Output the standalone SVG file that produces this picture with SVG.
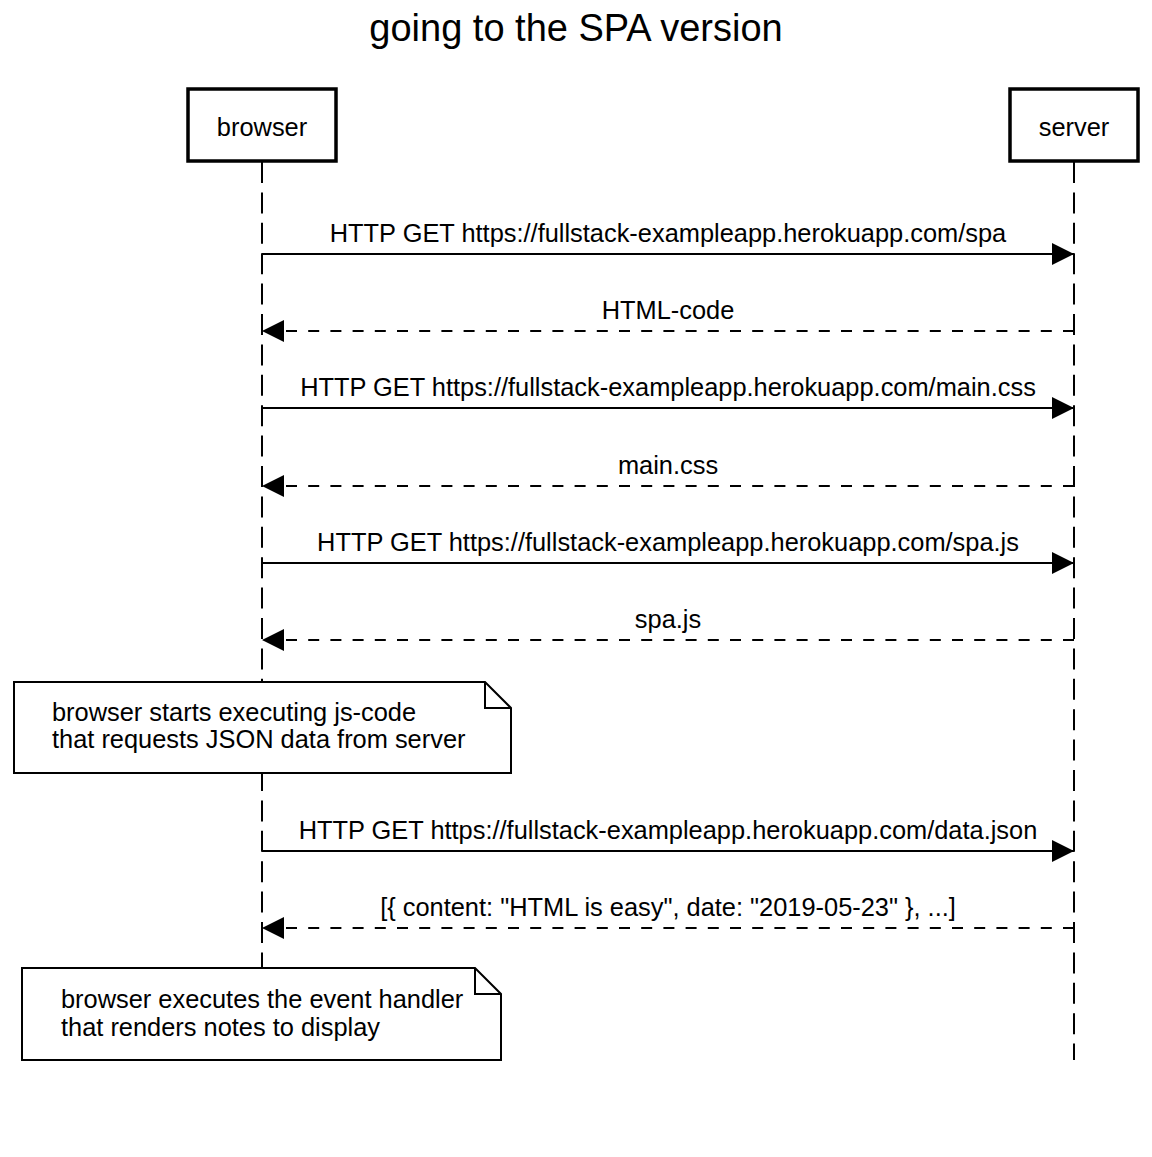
<svg xmlns="http://www.w3.org/2000/svg" width="1152" height="1157" viewBox="0 0 1152 1157">
<defs>
<style>
text{font-family:"Liberation Sans",Arial,sans-serif;fill:#000}
.t{font-size:25.4px}
.m{font-size:25.4px;text-anchor:middle}
.actor{fill:#fff;stroke:#000;stroke-width:3.5}
.life{stroke:#000;stroke-width:2;stroke-dasharray:21 9.4;fill:none}
.sol{stroke:#000;stroke-width:2;fill:none}
.dsh{stroke:#000;stroke-width:2;stroke-dasharray:11 11.2;fill:none}
.note{fill:#fff;stroke:#000;stroke-width:2}
.fold{fill:none;stroke:#000;stroke-width:2}
</style>
<marker id="ah" viewBox="0 0 22 22" refX="22" refY="11" markerWidth="22" markerHeight="22" markerUnits="userSpaceOnUse" orient="auto">
<path d="M0,0 L22,11 L0,22 Z" fill="#000"/>
</marker>
</defs>
<rect width="1152" height="1157" fill="#fff"/>
<text x="576" y="41" style="font-size:38px;text-anchor:middle">going to the SPA version</text>
<g id="lifelines">
<line class="life" x1="262" y1="162" x2="262" y2="1060"/>
<line class="life" x1="1074" y1="162" x2="1074" y2="1060"/>
</g>
<g id="browser">
<rect class="actor" x="188" y="89" width="148" height="72"/>
<text class="m" x="262" y="136">browser</text>
</g>
<g id="server">
<rect class="actor" x="1010" y="89" width="128" height="72"/>
<text class="m" x="1074" y="136">server</text>
</g>
<g id="connectors">
<line class="sol" x1="262" y1="254" x2="1074" y2="254" marker-end="url(#ah)"/>
<text class="m" x="668" y="242">HTTP GET https://fullstack-exampleapp.herokuapp.com/spa</text>
<line class="dsh" x1="1074" y1="331" x2="262" y2="331" marker-end="url(#ah)"/>
<text class="m" x="668" y="319">HTML-code</text>
<line class="sol" x1="262" y1="408" x2="1074" y2="408" marker-end="url(#ah)"/>
<text class="m" x="668" y="396">HTTP GET https://fullstack-exampleapp.herokuapp.com/main.css</text>
<line class="dsh" x1="1074" y1="486" x2="262" y2="486" marker-end="url(#ah)"/>
<text class="m" x="668" y="474">main.css</text>
<line class="sol" x1="262" y1="563" x2="1074" y2="563" marker-end="url(#ah)"/>
<text class="m" x="668" y="551">HTTP GET https://fullstack-exampleapp.herokuapp.com/spa.js</text>
<line class="dsh" x1="1074" y1="640" x2="262" y2="640" marker-end="url(#ah)"/>
<text class="m" x="668" y="628">spa.js</text>
<line class="sol" x1="262" y1="851" x2="1074" y2="851" marker-end="url(#ah)"/>
<text class="m" x="668" y="839">HTTP GET https://fullstack-exampleapp.herokuapp.com/data.json</text>
<line class="dsh" x1="1074" y1="928" x2="262" y2="928" marker-end="url(#ah)"/>
<text class="m" x="668" y="916">[{ content: "HTML is easy", date: "2019-05-23" }, ...]</text>
</g>
<g id="note1">
<path class="note" d="M14,682 H485 L511,708 V773 H14 Z"/>
<path class="fold" d="M485,682 V708 H511"/>
<text class="t" x="52" y="721">browser starts executing js-code</text>
<text class="t" x="52" y="748">that requests JSON data from server</text>
</g>
<g id="note2">
<path class="note" d="M22,968 H475 L501,994 V1060 H22 Z"/>
<path class="fold" d="M475,968 V994 H501"/>
<text class="t" x="61" y="1008">browser executes the event handler</text>
<text class="t" x="61" y="1036">that renders notes to display</text>
</g>
</svg>
